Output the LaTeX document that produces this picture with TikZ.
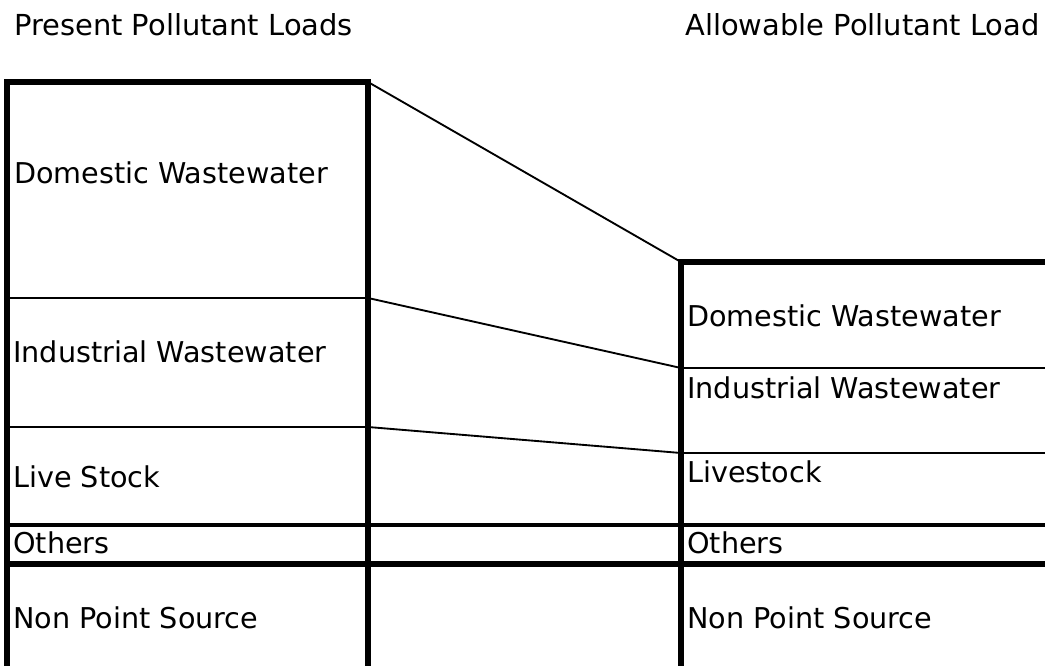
\documentclass[tikz,border=0pt]{standalone}
\usepackage{fontspec}
\setmainfont{DejaVu Sans}
\begin{document}
\begin{tikzpicture}[x=0.75pt,y=-0.75pt,
  heavy/.style={line width=3.9pt},
  mid/.style={line width=2.2pt},
  link/.style={line width=1.4pt},
  lbl/.style={anchor=base west,inner sep=0pt,font=\fontsize{21.5pt}{24pt}\selectfont},
  ttl/.style={anchor=base west,inner sep=0pt,font=\fontsize{21.7pt}{25pt}\selectfont}]
\useasboundingbox (0,0) rectangle (1045,666);
\clip (0,0) rectangle (1045,666);
% corner coordinates
\coordinate (LTL) at (7,82);
\coordinate (LTR) at (368,82);
\coordinate (L1) at (368,298);
\coordinate (L2) at (368,427);
\coordinate (RT) at (681,262);
\coordinate (R1) at (681,368);
\coordinate (R2) at (681,453);
% titles
\node[ttl] (tp) at (14,36) {Present Pollutant Loads};
\node[ttl] (ta) at (685,36) {Allowable Pollutant Load};
% left column
\draw[mid] (7,298) -- (L1);
\draw[mid] (7,427) -- (L2);
\draw[mid,line width=3pt] (7,525) -- (1060,525);
\draw[heavy] (7,564) -- (1060,564);
\draw[heavy] (7,700) -- (LTL) -- (LTR) -- (368,700);
% right column
\draw[mid] (R1) -- (1060,368);
\draw[mid] (R2) -- (1060,453);
\draw[heavy] (681,700) -- (RT) -- (1060,262);
% connectors
\draw[link] (LTR) -- (RT);
\draw[link] (L1) -- (R1);
\draw[link] (L2) -- (R2);
% labels
\node[lbl] (ld) at (14,184) {Domestic Wastewater};
\node[lbl] (li) at (13,363) {Industrial Wastewater};
\node[lbl] (ll) at (13,487) {Live Stock};
\node[lbl] (lo) at (13,553) {Others};
\node[lbl] (ln) at (13,628) {Non Point Source};
\node[lbl] (rd) at (687,327) {Domestic Wastewater};
\node[lbl] (ri) at (687,398) {Industrial Wastewater};
\node[lbl] (rl) at (687,482) {Livestock};
\node[lbl] (ro) at (687,553) {Others};
\node[lbl] (rn) at (687,628) {Non Point Source};
\end{tikzpicture}
\end{document}
